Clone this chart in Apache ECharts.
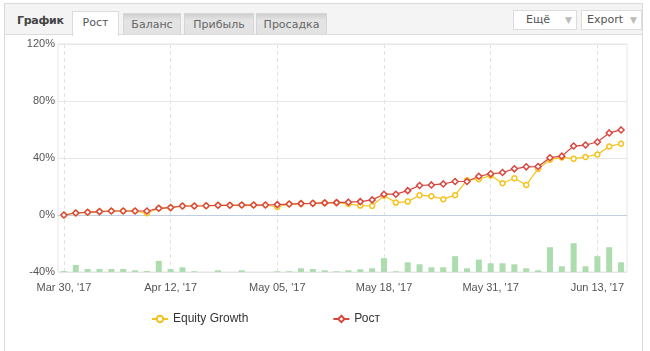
<!DOCTYPE html>
<html>
<head>
<meta charset="utf-8">
<script src="https://cdn.jsdelivr.net/npm/echarts@6/dist/echarts.min.js"></script>
<style>
  body { margin: 0; width: 650px; height: 351px; overflow: hidden; background: #fff; font-family: Tahoma, "DejaVu Sans", sans-serif; }
  #frame { position: absolute; left: 4px; top: 3px; width: 637px; height: 370px; border: 1px solid #d9d9d9; background: #fff; }
  #head { position: absolute; left: 5px; top: 4px; width: 637px; height: 30px; background: #f4f4f4; border-bottom: 1px solid #dcdcdc; }
  #title { position: absolute; left: 12px; top: 10px; font-size: 11px; font-weight: bold; color: #444; letter-spacing: -0.3px; }
  .tab { position: absolute; top: 9px; height: 20px; font-size: 11px; color: #666; text-align: center; line-height: 21px;
         background: linear-gradient(#cfcfcf, #e4e4e4 30%, #e2e2e2); border: 1px solid #d6d6d6; border-bottom: none; }
  .tab.on { top: 7px; height: 24px; background: #fff; color: #555; border-color: #dcdcdc; }
  .btn { position: absolute; top: 6px; height: 18px; font-size: 11px; color: #555; line-height: 18px; background: #fff;
         border: 1px solid #dcdcdc; }
  .btn span { position: absolute; right: 4px; top: 0; color: #bbb; font-size: 9px; }
  #chart { position: absolute; left: 0; top: 0; width: 650px; height: 351px; }
</style>
</head>
<body>
<div id="frame"></div>
<div id="head">
  <div id="title">График</div>
  <div class="tab on" style="left:67px;width:45px;">Рост</div>
  <div class="tab" style="left:118px;width:56px;">Баланс</div>
  <div class="tab" style="left:179px;width:68px;">Прибыль</div>
  <div class="tab" style="left:251px;width:69px;">Просадка</div>
  <div class="btn" style="left:508px;width:50px;padding-left:12px;">Ещё<span>▼</span></div>
  <div class="btn" style="left:576px;width:54px;padding-left:5px;">Export<span>▼</span></div>
</div>
<div id="chart"></div>
<script>
var dates = ['Mar 30', 'Mar 31', 'Apr 03', 'Apr 04', 'Apr 05', 'Apr 06', 'Apr 07', 'Apr 10', 'Apr 11', 'Apr 12',
  'Apr 13', 'Apr 14', 'Apr 18', 'Apr 20', 'Apr 24', 'Apr 26', 'Apr 28', 'May 03', 'May 05',
  'May 08', 'May 09', 'May 10', 'May 11', 'May 12', 'May 15', 'May 16', 'May 17', 'May 18',
  'May 19', 'May 22', 'May 23', 'May 24', 'May 25', 'May 26', 'May 29', 'May 30', 'May 31',
  'Jun 01', 'Jun 02', 'Jun 05', 'Jun 06', 'Jun 07', 'Jun 08', 'Jun 09', 'Jun 12', 'Jun 13',
  'Jun 14', 'Jun 15'];

var growth = [0, 1.4, 1.9, 2.4, 2.8, 2.8, 2.8, 2.8, 4.7, 5.2, 6.3, 6.3, 6.5, 6.8, 6.8, 7.0, 7.0, 7.0, 7.3, 7.7,
  8.0, 8.2, 8.5, 8.7, 9.0, 9.4, 10.6, 14.6, 14.6, 17.1, 20.7, 21.1, 21.8, 23.5, 23.5, 27.2, 28.9, 29.8,
  32.4, 33.8, 34.0, 40.2, 41.3, 48.4, 49.1, 51.2, 57.6, 59.7];

var equity = [0, 1.4, 1.9, 2.4, 2.8, 2.8, 2.8, 1.2, 4.7, 5.2, 6.3, 6.3, 6.5, 6.8, 6.8, 7.0, 7.0, 7.0, 5.6, 7.7,
  8.0, 8.2, 8.5, 8.7, 7.7, 6.6, 6.3, 13.6, 8.7, 9.4, 13.9, 13.2, 11.1, 13.9, 24.4, 25.1, 27.7, 22.3,
  25.8, 21.1, 32.4, 38.8, 40.4, 39.5, 40.7, 42.5, 48.1, 50.0];

var volume = [0.7, 4.9, 2.1, 2.1, 2.1, 2.1, 1.2, 0.7, 7.8, 2.1, 3.3, 0.5, 0, 1.2, 0, 1.2, 0, 0, 0.5, 0.5,
  2.6, 2.1, 1.2, 0.5, 1.2, 1.9, 2.6, 9.7, 0.5, 6.8, 5.4, 3.3, 3.3, 11.1, 2.6, 8.7, 6.1, 6.1, 5.4, 2.6,
  1.2, 17.4, 4.0, 20.2, 4.0, 11.1, 17.4, 6.8];

var yTicks = { min: -40, max: 120, step: 40 };

var myChart = echarts.init(document.getElementById('chart'));
myChart.setOption({
  animation: false,
  textStyle: { fontFamily: '"Liberation Sans", Arial, sans-serif' },
  grid: { left: 58, right: 23, top: 44, bottom: 79, show: true, borderColor: '#e6e6e6', borderWidth: 1 },
  legend: {
    data: ['Equity Growth', 'Рост'],
    left: 146,
    top: 308,
    itemGap: 84,
    itemWidth: 16,
    itemHeight: 8,
    textStyle: { fontSize: 12, color: '#333' }
  },
  xAxis: {
    type: 'category',
    data: dates,
    boundaryGap: true,
    axisLine: { lineStyle: { color: '#c0cfe0', width: 1 } },
    axisTick: { show: false },
    axisLabel: {
      interval: 8,
      color: '#555',
      fontSize: 11,
      margin: 10,
      formatter: function (v) { return v + ", '17"; }
    },
    splitLine: { show: true, interval: 8, alignWithLabel: true, lineStyle: { color: '#e3e3e3', type: [4, 3] } }
  },
  yAxis: [{
    type: 'value',
    min: yTicks.min,
    max: yTicks.max,
    interval: yTicks.step,
    axisLine: { show: false },
    axisTick: { show: false },
    axisLabel: { color: '#555', fontSize: 11, margin: 3, formatter: '{value}%' },
    splitLine: { lineStyle: { color: '#e6e6e6' } }
  }, {
    type: 'value',
    min: 0,
    max: 160,
    show: false,
    splitLine: { show: false }
  }],
  series: [
    {
      name: 'Volume',
      type: 'bar',
      yAxisIndex: 1,
      data: volume,
      barWidth: 6,
      itemStyle: { color: '#addcae' },
      z: 1
    },
    {
      name: 'Equity Growth',
      type: 'line',
      data: equity,
      symbol: 'circle',
      symbolSize: 5,
      color: '#f5c21b',
      lineStyle: { width: 1.2, color: '#f5c21b' },
      itemStyle: { color: '#fff', borderColor: '#f5c21b', borderWidth: 1.5 },
      z: 3
    },
    {
      name: 'Рост',
      type: 'line',
      data: growth,
      symbol: 'diamond',
      symbolSize: 6,
      color: '#d9463e',
      lineStyle: { width: 1.2, color: '#d9463e' },
      itemStyle: { color: '#fff', borderColor: '#d9463e', borderWidth: 1.5 },
      z: 4
    }
  ]
});
</script>
</body>
</html>
